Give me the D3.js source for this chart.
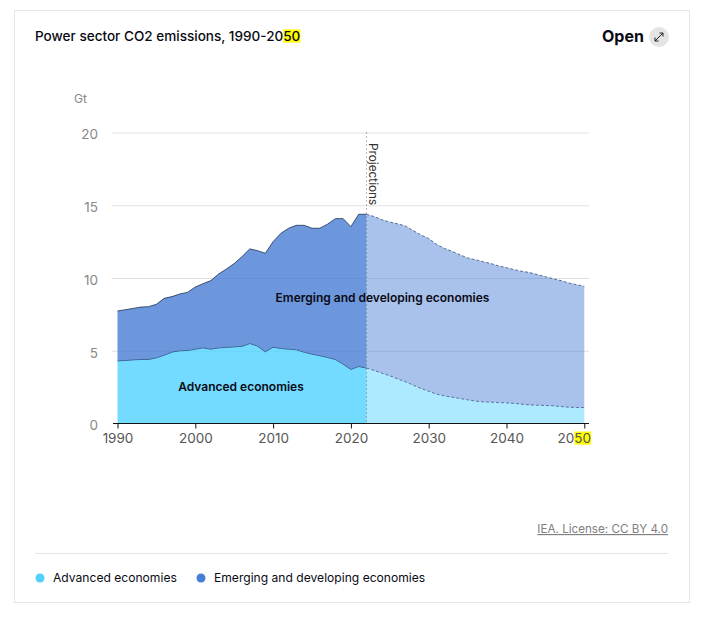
<!DOCTYPE html>
<html lang="en">
<head>
<meta charset="UTF-8">
<title>Power sector CO2 emissions, 1990-2050</title>
<script src="https://d3js.org/d3.v7.min.js"></script>
<style>
    html, body { margin: 0; background: #fff; }
    svg { display: block; }
    text { font-family: Inter, "Open Sans", sans-serif; }
</style>
</head>
<body>
<div id="chart"></div>
<script>
var years = d3.range(1990, 2051);
var advanced = [4.31, 4.33, 4.38, 4.40, 4.40, 4.52, 4.70, 4.91, 5.00, 5.02,
    5.11, 5.20, 5.11, 5.20, 5.23, 5.27, 5.30, 5.50, 5.32, 4.93,
    5.25, 5.16, 5.11, 5.07, 4.90, 4.77, 4.66, 4.54, 4.40, 4.08,
    3.72, 3.92, 3.81, 3.65, 3.46, 3.28, 3.07, 2.87, 2.64, 2.41,
    2.22, 2.02, 1.90, 1.81, 1.72, 1.63, 1.54, 1.49, 1.47, 1.44,
    1.42, 1.38, 1.33, 1.28, 1.26, 1.24, 1.22, 1.17, 1.12, 1.10, 1.10];
var emerging = [3.42, 3.49, 3.53, 3.60, 3.63, 3.67, 3.90, 3.81, 3.90, 3.99,
    4.27, 4.41, 4.71, 5.07, 5.39, 5.72, 6.17, 6.50, 6.56, 6.77,
    7.25, 7.91, 8.31, 8.55, 8.72, 8.65, 8.76, 9.16, 9.68, 10.00,
    9.81, 10.46, 10.57, 10.57, 10.54, 10.57, 10.65, 10.71, 10.62, 10.55,
    10.49, 10.30, 10.14, 10.02, 9.88, 9.75, 9.72, 9.63, 9.52, 9.39,
    9.29, 9.19, 9.13, 9.09, 8.97, 8.85, 8.73, 8.65, 8.54, 8.44, 8.33];
var seriesNames = ["Advanced economies", "Emerging and developing economies"];
var seriesColors = ["#50d2ff", "#477dd4"];
var xTicks = [1990, 2000, 2010, 2020, 2030, 2040, 2050];
var yTicks = [0, 5, 10, 15, 20];
var lastActualYear = 2022;

var svg = d3.select("#chart").append("svg").attr("width", 713).attr("height", 618);

var x = d3.scaleLinear().domain([1990, 2050]).range([117.5, 584.3]);
var y = d3.scaleLinear().domain([0, 20]).range([423.5, 132.5]);

var rows = years.map(function (d, i) {
    return { year: d, advanced: advanced[i], emerging: emerging[i] };
});
var stacked = d3.stack().keys(["advanced", "emerging"])(rows);

// card
svg.append("rect").attr("x", 14.5).attr("y", 10.5).attr("width", 675).attr("height", 592)
    .attr("fill", "#fff").attr("stroke", "#e6e6e6");

// header
var title = svg.append("text").attr("x", 35).attr("y", 41)
    .attr("font-size", 13.55).attr("font-weight", 500).attr("fill", "#0a0a14");
title.append("tspan").text("Power sector CO2 emissions, 1990-20");
var titleEnd = title.append("tspan").text("50");

svg.append("text").attr("x", 602).attr("y", 42)
    .attr("font-size", 16).attr("font-weight", 700).attr("fill", "#0a0a14").text("Open");
svg.append("circle").attr("cx", 659).attr("cy", 37).attr("r", 10).attr("fill", "#e4e4e4");
svg.append("path").attr("d", "M655 41L663 33M659.5 33H663V36.5M655 37.5V41H658.5")
    .attr("fill", "none").attr("stroke", "#222").attr("stroke-width", 1);

// gridlines
var grid = d3.axisLeft(y).tickValues(yTicks.filter(function (d) { return d > 0; }))
    .tickSize(-477).tickFormat("");
svg.append("g").attr("transform", "translate(589,0)").call(grid).call(function (g) {
    g.select(".domain").remove();
    g.selectAll("line").attr("stroke", "#e0e0e0").attr("x2", -477);
});

svg.append("text").attr("x", 74).attr("y", 103).attr("font-size", 12).attr("fill", "#888").text("Gt");

var yAxis = d3.axisLeft(y).tickValues(yTicks).tickSize(0).tickPadding(0);
svg.append("g").attr("transform", "translate(98,2)").call(yAxis).call(function (g) {
    g.select(".domain").remove();
    g.selectAll("text").attr("font-size", 13.5).attr("fill", "#888")
        .style("font-family", "Inter, sans-serif");
});

// areas, split at the last actual year
var area = d3.area().x(function (d) { return x(d.data.year); })
    .y0(function (d) { return y(d[0]); }).y1(function (d) { return y(d[1]); });
var topLine = d3.line().x(function (d) { return x(d.data.year); })
    .y(function (d) { return y(d[1]); });

stacked.forEach(function (s, i) {
    var actual = s.filter(function (d) { return d.data.year <= lastActualYear; });
    var projected = s.filter(function (d) { return d.data.year >= lastActualYear; });
    svg.append("path").attr("d", area(actual)).attr("fill", seriesColors[i]).attr("fill-opacity", 0.8);
    svg.append("path").attr("d", area(projected)).attr("fill", seriesColors[i]).attr("fill-opacity", 0.47);
    svg.append("path").attr("d", topLine(actual)).attr("fill", "none")
        .attr("stroke", "#1c2f52").attr("stroke-width", 0.8);
    svg.append("path").attr("d", topLine(projected)).attr("fill", "none")
        .attr("stroke", "#3a4f78").attr("stroke-width", 0.8).attr("stroke-dasharray", "3 2");
});

// projections marker
svg.append("line").attr("x1", x(lastActualYear)).attr("x2", x(lastActualYear))
    .attr("y1", y(20)).attr("y2", y(0))
    .attr("stroke", "#555").attr("stroke-width", 0.8).attr("stroke-dasharray", "1 3");
svg.append("text").attr("transform", "translate(369,143) rotate(90)")
    .attr("font-size", 11.8).attr("fill", "#333").text("Projections");

// x axis
var xAxis = d3.axisBottom(x).tickValues(xTicks).tickFormat(d3.format("d")).tickSize(5).tickPadding(5);
var xG = svg.append("g").attr("transform", "translate(0,423.5)").call(xAxis);
xG.select(".domain").attr("d", "M113,0H589").attr("stroke", "#111");
xG.selectAll("line").attr("stroke", "#111");
xG.selectAll("text").attr("font-size", 13.5).attr("fill", "#555")
    .style("font-family", "Inter, sans-serif");
var lastLabel = xG.selectAll("text").filter(function (d) { return d === 2050; }).attr("x", -10.5);
lastLabel.text(null);
lastLabel.append("tspan").text("20");
var labelEnd = lastLabel.append("tspan").text("50");

// direct labels
svg.append("text").attr("x", 382.5).attr("y", 302).attr("text-anchor", "middle")
    .attr("font-size", 12).attr("font-weight", 600).attr("fill", "#0a0a14").text(seriesNames[1]);
svg.append("text").attr("x", 241).attr("y", 391).attr("text-anchor", "middle")
    .attr("font-size", 12).attr("font-weight", 600).attr("fill", "#0a0a14").text(seriesNames[0]);

// yellow marks behind the two "50"
[titleEnd, labelEnd].forEach(function (t) {
    var node = t.node();
    var box = node.getExtentOfChar(0);
    var last = node.getExtentOfChar(1);
    var m = node.getScreenCTM();
    svg.insert("rect", "text").attr("x", box.x + m.e).attr("y", box.y + m.f + box.height * 0.09)
        .attr("width", last.x + last.width - box.x).attr("height", box.height * 0.82)
        .attr("fill", "#ffff00");
});

// source
svg.append("text").attr("x", 668).attr("y", 533).attr("text-anchor", "end")
    .attr("font-size", 11.65).attr("fill", "#808080").attr("text-decoration", "underline")
    .text("IEA. License: CC BY 4.0");
svg.append("line").attr("x1", 35).attr("x2", 668).attr("y1", 553.5).attr("y2", 553.5).attr("stroke", "#e6e6e6");

// legend
var legendX = [40, 201];
seriesNames.forEach(function (name, i) {
    svg.append("circle").attr("cx", legendX[i]).attr("cy", 578).attr("r", 4.5).attr("fill", seriesColors[i]);
    svg.append("text").attr("x", legendX[i] + 13).attr("y", 582)
        .attr("font-size", 12.1).attr("fill", "#0a0a14").text(name);
});
</script>
</body>
</html>
